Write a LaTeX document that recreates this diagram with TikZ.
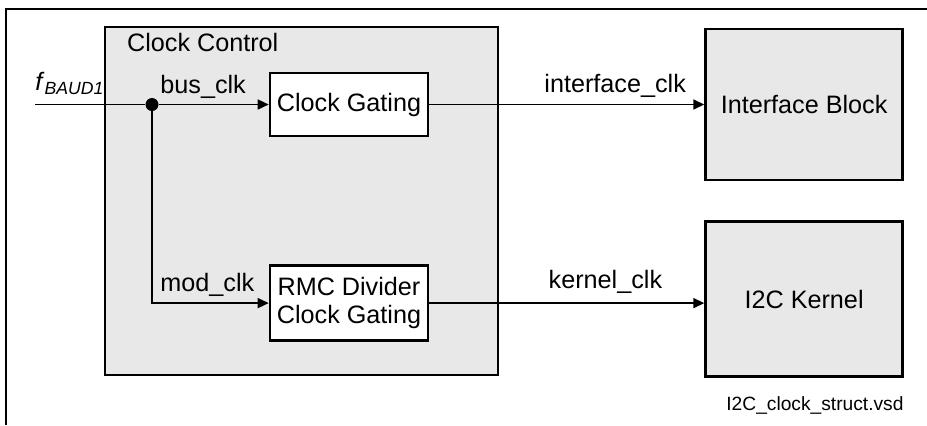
\documentclass[tikz,border=0pt]{standalone}
\usepackage{fontspec}
\setmainfont{Liberation Sans}
\usetikzlibrary{arrows.meta,positioning,shadows}
\definecolor{blockfill}{HTML}{E8E8E8}
\definecolor{shadowgrey}{HTML}{A0A0A0}

\begin{document}
\begin{tikzpicture}[
  x=0.5pt, y=-0.5pt,
  font=\fontsize{12.6}{14}\selectfont,
  node distance=6mm,
  blk/.style={draw=black,line width=1.3pt,inner sep=0pt,align=center,
              drop shadow={shadow xshift=0.7pt,shadow yshift=-0.7pt,fill=shadowgrey,opacity=1}},
  grey/.style={blk,fill=blockfill},
  gatebox/.style={blk,fill=white,minimum width=79pt},
  wire/.style={line width=0.8pt},
  ar/.style={wire,-{Triangle[length=5.5pt,width=5pt]}},
  lbl/.style={inner sep=0pt,anchor=base west}
]
\useasboundingbox (0,0) rectangle (927,425);
% page frame
\draw[line width=1pt] (927,9) -- (6,9) -- (6,425);

\node[grey,minimum width=196.5pt,minimum height=174pt] (ctrl) at (301.5,201) {};
\node[lbl] (ctrltitle) at ([xshift=11.5pt,yshift=-13pt]ctrl.north west) {Clock Control};

\node[gatebox,minimum height=31.5pt] (gate) at (349,104.5) {Clock Gating};
\node[gatebox,minimum height=37.5pt,below=63.5pt of gate] (rmc) {RMC Divider\\Clock Gating};

\node[grey,minimum width=98.5pt,minimum height=75.5pt,right=137.5pt of gate] (iface) {Interface Block};
\node[grey,minimum width=98.5pt,minimum height=77.5pt,below=19.5pt of iface] (kern) {I2C Kernel};

\coordinate (fin) at (35,104.5);
\node[circle,fill,inner sep=0pt,minimum size=6.5pt] (split) at (152,104.5) {};
\coordinate (bend) at (split |- rmc.west);

\draw[wire] (fin) -- (split);
\draw[ar] (split) -- (gate);
\draw[ar] (split) |- (rmc);
\draw[ar] (gate) -- (iface);
\draw[ar] (rmc.east) -- (rmc.east -| kern.west);

\node[lbl] (fbaud) at ([yshift=7pt]fin) {\textit{f}\textsubscript{\textit{BAUD1}}};
\node[lbl] (buslbl) at ([xshift=4pt,yshift=5.5pt]split.center) {bus\_clk};
\node[lbl] (modlbl) at ([xshift=4pt,yshift=6pt]bend) {mod\_clk};
\node[lbl,anchor=base east] (ifclbl) at ([xshift=-9pt,yshift=6pt]iface.west) {interface\_clk};
\node[lbl] (kerlbl) at ([xshift=59.5pt,yshift=7.5pt]rmc.east) {kernel\_clk};

\node[lbl,anchor=base east,font=\fontsize{9.6}{11}\selectfont] (fname)
  at ([yshift=-16.5pt]kern.south east) {I2C\_clock\_struct.vsd};
\end{tikzpicture}
\end{document}
